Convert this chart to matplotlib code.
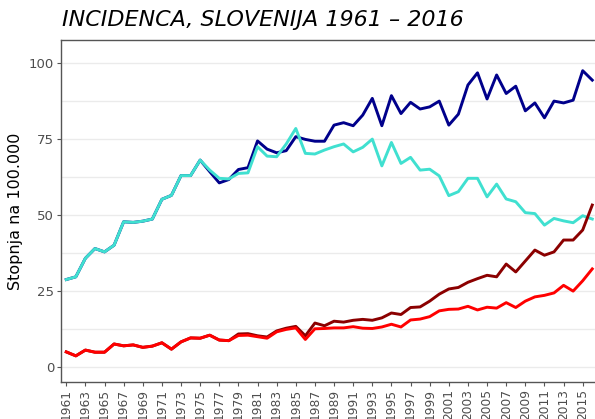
import matplotlib
matplotlib.use("Agg")
import matplotlib.pyplot as plt
import numpy as np

years = list(range(1961, 2017))

navy = [28.8, 29.7, 35.8, 39.0, 37.9, 40.1, 47.8, 47.6, 48.0, 48.7,
        55.2, 56.5, 63.0, 63.0, 68.1, 64.3, 60.6, 61.7, 65.0, 65.6,
        74.4, 71.7, 70.5, 71.2, 75.8, 74.9, 74.3, 74.3, 79.6, 80.4,
        79.4, 82.9, 88.4, 79.4, 89.3, 83.4, 87.1, 84.9, 85.6, 87.5,
        79.6, 83.2, 92.8, 96.8, 88.2, 96.1, 90.0, 92.4, 84.3, 86.9,
        82.0, 87.5, 86.9, 87.8, 97.5, 94.4]

turquoise = [28.8, 29.7, 35.8, 39.0, 37.9, 40.1, 47.8, 47.6, 48.0, 48.7,
             55.2, 56.5, 63.0, 63.0, 68.1, 64.8, 62.1, 61.9, 63.7, 63.9,
             72.5, 69.4, 69.2, 73.4, 78.5, 70.3, 70.1, 71.4, 72.5, 73.4,
             70.8, 72.3, 75.0, 66.2, 73.9, 67.0, 69.0, 64.8, 65.1, 62.9,
             56.4, 57.7, 62.1, 62.1, 56.0, 60.2, 55.3, 54.4, 50.8, 50.5,
             46.7, 48.9, 48.1, 47.5, 49.8, 48.7]

darkred = [5.0, 3.7, 5.6, 4.9, 4.9, 7.6, 7.0, 7.3, 6.5, 6.9,
           8.0, 5.9, 8.3, 9.6, 9.5, 10.5, 8.9, 8.7, 10.9, 11.0,
           10.3, 9.9, 11.9, 12.8, 13.4, 10.3, 14.5, 13.6, 15.1, 14.8,
           15.4, 15.7, 15.4, 16.2, 17.8, 17.3, 19.6, 19.8, 21.7, 24.0,
           25.7, 26.2, 27.9, 29.1, 30.2, 29.7, 33.9, 31.3, 34.9, 38.5,
           36.8, 37.9, 41.8, 41.8, 45.1, 53.3]

red = [5.0, 3.7, 5.6, 4.9, 4.9, 7.6, 7.0, 7.3, 6.5, 6.9,
       8.0, 5.9, 8.3, 9.6, 9.5, 10.5, 8.9, 8.7, 10.4, 10.5,
       10.0, 9.5, 11.6, 12.4, 12.9, 9.1, 12.6, 12.7, 12.9, 12.9,
       13.3, 12.8, 12.7, 13.2, 14.1, 13.2, 15.5, 15.8, 16.6, 18.5,
       19.0, 19.1, 20.0, 18.8, 19.7, 19.4, 21.2, 19.6, 21.7, 23.1,
       23.6, 24.4, 26.9, 25.0, 28.4, 32.3]

y_ticks = [0, 25, 50, 75, 100]
x_ticks = list(range(1961, 2016, 2))

fig = plt.figure(figsize=(5.95, 4.19), dpi=100)
ax = fig.add_axes([61/595, (419-382)/419, (598-61)/595, (382-40)/419])

for y in np.arange(0, 101, 12.5):
    ax.axhline(y, color="#ebebeb", lw=1.0, zorder=0)

ax.plot(years, navy, color="#00008B", lw=2.1, zorder=2)
ax.plot(years, turquoise, color="#40E0D0", lw=2.1, zorder=3)
ax.plot(years, darkred, color="#8B0000", lw=2.1, zorder=4)
ax.plot(years, red, color="#FF0000", lw=2.1, zorder=5)

ax.set_xlim(1960.45, 2016.6)
ax.set_ylim(-4.9, 107.6)
ax.set_yticks(y_ticks)
ax.set_yticklabels([str(v) for v in y_ticks])
ax.set_xticks(x_ticks)
ax.set_xticklabels([str(v) for v in x_ticks], rotation=90)

for s in ["left", "bottom", "top"]:
    ax.spines[s].set_color("#555555")
    ax.spines[s].set_linewidth(1.0)
ax.spines["right"].set_visible(False)

ax.tick_params(axis="both", colors="#555555", length=3, width=0.8,
               labelcolor="#4d4d4d")
ax.tick_params(axis="x", labelsize=8.8, pad=2)
ax.tick_params(axis="y", labelsize=9.5, pad=2)

ax.set_ylabel("Stopnja na 100.000", fontsize=11.5, color="black", labelpad=4)
fig.text(62/595, 1 - 20/419, "INCIDENCA, SLOVENIJA 1961 – 2016",
         fontsize=16, style="italic", va="center", ha="left")

fig.savefig("out.png", dpi=100)
